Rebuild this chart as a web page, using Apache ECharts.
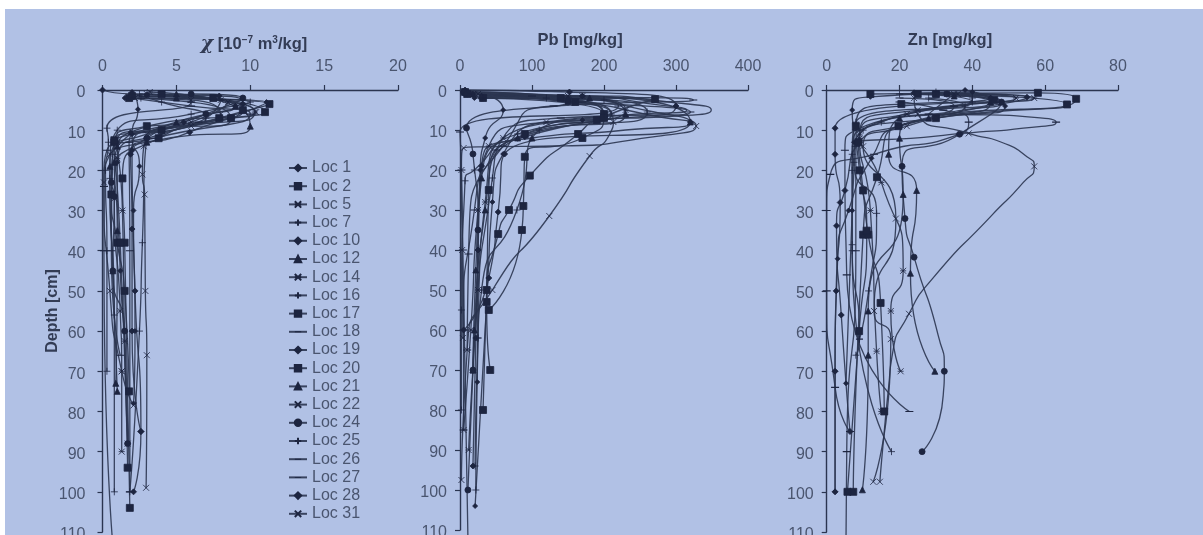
<!DOCTYPE html>
<html><head><meta charset="utf-8">
<style>
html,body{margin:0;padding:0;background:#fff;width:1203px;height:535px;overflow:hidden}
#bg{position:absolute;left:5px;top:9px;width:1198px;height:526px;background:#b1c1e5}
#chart{position:absolute;left:0;top:0;width:1203px;height:535px;filter:blur(0.55px)}
</style>
<script src="https://cdn.jsdelivr.net/npm/echarts@6/dist/echarts.min.js"></script>
</head><body><div id="bg"></div><div id="chart"></div>
<script>
const locations=['Loc 1','Loc 2','Loc 5','Loc 7','Loc 10','Loc 12','Loc 14','Loc 16','Loc 17','Loc 18','Loc 19','Loc 20','Loc 21','Loc 22','Loc 24','Loc 25','Loc 26','Loc 27','Loc 28','Loc 31'];
// pairs are [value, depth in cm]; a third element 0 marks a point read off the curve that carries no marker
const chi1=[[0,0],[2,1],[7.9,1.5],[9.5,3.5],[5.9,10.5],[1.9,16],[2,34.6],[2,60],[2.6,85]];
const chi2=[[1.8,2],[11.3,3.5],[7.9,7],[3.8,12],[1.35,22],[1.5,38],[1.85,104]];
const chi5=[[3.2,0.5],[8,2.5],[10.3,5.5],[4,11],[1,17],[0.8,27],[1.2,55],[1.3,70],[1.3,90]];
const chi7=[[2.5,1],[6,3],[0.3,9.5],[0.4,13],[0.2,20],[0.3,40],[0.3,70]];
const chi10=[[2,0.5],[2.4,4.8],[2,11],[2.5,19],[2.1,30],[2.2,60],[2.1,78]];
const chi12=[[5,1],[9.5,5],[10,9],[3,13],[0.8,18],[1,35],[0.9,73]];
const chi14=[[3,1.5],[8.5,3],[6,8],[1,13],[1.35,30],[1.5,62.5],[1.7,88]];
const chi16=[[2.6,2],[10,3],[6,6],[1,10],[0.5,22],[0.8,56],[0.8,100]];
const chi17=[[2,1.5],[7.5,2],[9.5,5],[3,9],[0.8,13],[0.6,26],[1,38],[1.5,50],[1.8,75]];
const chi18=[[1.9,2],[6,3],[8.7,7],[2,11],[0.7,16],[0.6,40],[1.2,66]];
const chi19=[[1.5,2],[11.1,3],[8,7],[1.9,10.5],[1,18],[1.2,45],[1.5,60]];
const chi20=[[4,1],[11,5.5],[8.7,7],[4,10],[0.8,12.5],[1.2,38],[1.7,94]];
const chi21=[[5,2],[9,4],[5,8],[1,14],[0.5,19],[0.7,45],[1,75]];
const chi22=[[3,1],[10.4,5.5],[6,9],[2.8,14],[2.7,21],[2.85,26],[2.9,50],[3,66],[2.95,99]];
const chi24=[[6,1],[9.5,2],[7,6],[3,12],[0.6,23],[0.8,26.5],[0.7,45],[1.5,60],[1.7,88]];
const chi25=[[2,1],[4,3],[7,7],[3,12],[2.7,38],[2.5,60],[1.85,100]];
const chi26=[[2,2],[6,4],[10,6],[3.5,12],[0.3,15],[0.1,24],[0.1,40],[0.75,115]];
const chi27=[[2.5,1.5],[8,2.5],[6.5,8],[1.8,13],[1.85,40],[1.85,100]];
const chi28=[[3,1.2],[9,4],[5.5,8],[2,15],[2.2,50],[2.6,85],[2.1,100]];
const chi31=[[2.2,2],[6,2.5],[8,6],[3,11],[0.5,16],[0.1,23],[0.5,50],[1.3,70],[2.1,78.5]];
const pb1=[[7,0],[152,0.5],[300,4],[90,11.7],[30,19],[25,40],[22,62],[18,94]];
const pb2=[[32,2],[271,2.3],[190,7.5],[164,11],[97,21.4],[68,30],[53,36],[37,53],[42,70]];
const pb5=[[18,1],[170,1.5],[270,3.6,0],[315,5,0],[230,6.2,0],[120,8],[40,14],[25,30],[15,60],[5,85]];
const pb7=[[10,1],[120,2],[210,6],[80,11],[20,20],[7,22.7],[2,55],[2,80]];
const pb10=[[5,0.5],[60,5],[35,12],[28,20],[25,40],[24,73]];
const pb12=[[18,1],[150,2],[270,5.5,0],[320,8],[230,10,0],[100,12],[30,22],[22,45],[18,70]];
const pb14=[[8,0.5],[150,1.5],[230,5],[60,12],[35,28],[25,50],[12,90]];
const pb16=[[30,2],[200,2.5],[260,5.5],[80,12],[45,22],[25,62],[22,100]];
const pb17=[[7,0.5],[140,2],[200,6],[90,11],[40,25],[37,50],[32,80]];
const pb18=[[15,1],[100,1.5],[324,2.5],[130,4],[60,14],[20,30],[5,60],[5,85]];
const pb19=[[20,2],[170,1.5],[300,3.2,0],[349,5,0],[300,6.5,0],[170,7.5],[60,16],[45,28],[38,50],[21,104]];
const pb20=[[10,1],[160,3],[200,7],[170,12],[90,16.7],[88,29],[86,35],[40,55]];
const pb21=[[30,1.5],[180,2],[230,6],[80,12],[35,30],[20,60],[18,70]];
const pb22=[[25,1],[160,3],[270,6.5,0],[328,9],[268,11.7,0],[130,14,0],[40,14.2,0],[5,14.5],[2,20],[3,40],[4,62]];
const pb24=[[5,0.5],[150,3],[9,9.5],[18,16],[25,35],[18,70],[11,100]];
const pb25=[[32,2],[200,6],[110,10],[79,30],[30,50],[25,62],[21,94]];
const pb26=[[15,1],[150,2],[220,4],[0,10.5],[2,20],[4,40],[11,112]];
const pb27=[[20,1.5],[170,3],[320,5.5],[140,7],[50,15],[12,41],[10,65]];
const pb28=[[8,1],[170,1.5],[320,8],[62,16],[53,30.5],[40,47],[5,60]];
const pb31=[[20,1],[150,3],[213,8],[208,11,0],[180,16.5],[124,31.5],[45,50],[10,65],[2,97.5]];
const zn1=[[24,0.7],[55,1.8],[20,9],[9,13],[5,25],[2.7,33.8],[4,56],[6.4,85]];
const zn2=[[12,1],[58,0.7],[68.5,2.2],[19.7,9],[13.8,21.7],[10,36],[7.3,100]];
const zn5=[[35,1],[57,2],[25,5],[9,11],[15,23],[21,45],[17.6,55],[20.3,70]];
const zn7=[[20,1],[40,3],[8,8],[7,20],[7,38.5],[9,62],[8,66]];
const zn10=[[40,0.5],[12,1.7],[7,5],[7.5,13],[7,30],[5.3,73]];
const zn12=[[30,1],[45,3],[20,7],[17,16],[24.7,25],[23,45.6],[29.7,70]];
const zn14=[[33,1],[52,2],[22,6],[9,12],[12,30],[13.7,65],[15,80]];
const zn16=[[28,2],[38,4],[10,10],[7.5,18],[13.7,30.7],[11.5,50],[9,62]];
const zn17=[[25,1],[66,3.6],[30,7],[8.7,13],[10,25],[11.4,36],[14.8,53],[15.8,80]];
const zn18=[[20,2],[35,4],[8,10],[5,15],[5.5,46],[22.7,80]];
const zn19=[[38,0],[49,4],[30,7],[19.7,9],[12.3,17],[6,30],[3,42],[2.3,70],[2.3,100]];
const zn20=[[30,1],[46,2.5],[20.5,3.5],[8,9],[9,20],[11,35],[8.9,60],[5.7,100]];
const zn21=[[35,1.5],[48,3],[28,7],[20,12],[21,26],[11.4,55],[11.4,66],[9.8,99.5]];
const zn22=[[24,2],[25,6],[39,10.8],[48,13,0],[55,16.6,0],[57,19],[54,23,0],[45,31.5,0],[29,47,0],[22.6,55.7],[18,66,0],[17,74,0],[15.5,88,0],[14.6,97.5]];
const zn24=[[33,1],[48,3],[36.5,11],[20.7,19],[21.5,32],[24,41.6],[30.6,61,0],[32.3,70],[32,76,0],[26.2,90]];
const zn25=[[30,0.5],[40,2],[15,8],[7,16],[7,40],[17.8,90]];
const zn26=[[35,1],[28,6],[45,6.2,0],[57,6.8,0],[63,8],[54,9.5,0],[40,10.6,0],[30,11.5,0],[8,14],[8,40],[5.5,90],[5.3,112]];
const zn27=[[20,3],[32,5],[39,8],[36.5,11],[13,16],[1,21],[0,30],[0,50],[2.3,74],[6.4,85]];
const zn28=[[25,1],[45,2],[2.3,9.5],[2.3,16],[3.7,28],[2.6,50],[2.3,70],[2.3,100]];
const zn31=[[36,1],[45,3],[22,9],[10,14],[19,32],[13,55],[17.6,62],[12.8,97.5]];
const chiSeries=[chi1,chi2,chi5,chi7,chi10,chi12,chi14,chi16,chi17,chi18,chi19,chi20,chi21,chi22,chi24,chi25,chi26,chi27,chi28,chi31];
const pbSeries=[pb1,pb2,pb5,pb7,pb10,pb12,pb14,pb16,pb17,pb18,pb19,pb20,pb21,pb22,pb24,pb25,pb26,pb27,pb28,pb31];
const znSeries=[zn1,zn2,zn5,zn7,zn10,zn12,zn14,zn16,zn17,zn18,zn19,zn20,zn21,zn22,zn24,zn25,zn26,zn27,zn28,zn31];
const xTicks=[{max:20,interval:5},{max:400,interval:100},{max:80,interval:20}];

const DARK='#2b3550', TXT='#4a556f', HEAD='#333c55';
const X='path://M0 0L10 10M10 0L0 10';
const PLUS='path://M0 5H10M5 2V8';
const DASH='path://M0 0L0.01 0L0 0.01ZM0 4.3H10V5.7H0ZM10 10L9.99 10L10 9.99Z';
const STAR='path://M0 1L10 9M10 1L0 9M0 5H10';
const marks=[['diamond',7],['rect',8],[STAR,7],[PLUS,8],['diamond',6],['triangle',7],[STAR,7],[PLUS,8],['rect',8],[DASH,9],['diamond',6],['rect',8],['triangle',7],[X,7],['circle',7],[PLUS,8],[DASH,9],[DASH,9],['diamond',7],[X,7]];
const grids=[
 {left:102.5,top:90,width:295.5,height:442,outerBoundsMode:'none'},
 {left:460,top:90,width:288,height:440,outerBoundsMode:'none'},
 {left:826.7,top:90,width:291.3,height:442,outerBoundsMode:'none'}];
const yMargins=[17,13,13];
const titles=[
 {text:'{c|χ}{b| [10}{s|−7}{b| m}{s|3}{b|/kg]}',left:254,top:35},
 {text:'Pb [mg/kg]',left:580,top:32},
 {text:'Zn [mg/kg]',left:950,top:32}];
const axisCommon={axisLine:{show:true,onZero:false,lineStyle:{color:DARK,width:1.4}},axisTick:{show:true,length:5,lineStyle:{color:DARK,width:1.2}},splitLine:{show:false},axisLabel:{color:TXT,fontFamily:'Liberation Sans',fontSize:16}};
const xAxis=grids.map((g,i)=>Object.assign({},axisCommon,{gridIndex:i,type:'value',position:'top',min:0,max:xTicks[i].max,interval:xTicks[i].interval,
  axisLabel:Object.assign({},axisCommon.axisLabel,{margin:15})}));
const yAxis=grids.map((g,i)=>Object.assign({},axisCommon,{gridIndex:i,type:'value',inverse:true,min:0,max:110,interval:10,
  name:i==0?'Depth [cm]':'',nameLocation:'middle',nameGap:41.5,nameRotate:90,nameMoveOverlap:false,
  nameTextStyle:{color:HEAD,fontWeight:'bold',fontFamily:'Liberation Sans',fontSize:16},
  axisLabel:Object.assign({},axisCommon.axisLabel,{margin:yMargins[i],formatter:'{a|{value}}',
    rich:{a:{color:TXT,fontFamily:'Liberation Sans',fontSize:16,padding:[6,0,0,0]}}})}));
const series=[];
[chiSeries,pbSeries,znSeries].forEach((set,p)=>set.forEach((d,i)=>{
  const isDash=marks[i][0]===DASH, size=marks[i][1]-1;
  series.push({
  name:locations[i],type:'line',xAxisIndex:p,yAxisIndex:p,data:d,smooth:0.7,clip:false,
  symbol:marks[i][0],symbolSize:v=>v[2]===0?0:size,showSymbol:true,
  lineStyle:{color:DARK,width:1.3,opacity:0.9},
  itemStyle:{color:'#1d2540',borderColor:'#1d2540',borderWidth:isDash?0:0.8},
  emphasis:{disabled:true},animation:false});}));
const chart=echarts.init(document.getElementById('chart'),null,{renderer:'canvas'});
chart.setOption({animation:false,backgroundColor:'transparent',grid:grids,xAxis,yAxis,series,
 title:titles.map(t=>({text:t.text,left:t.left,top:t.top,textAlign:'center',padding:0,
   textStyle:{color:HEAD,fontWeight:'bold',fontFamily:'Liberation Sans',fontSize:16.5,
     rich:{b:{fontWeight:'bold',fontSize:16.5,color:HEAD,fontFamily:'Liberation Sans'},c:{fontStyle:'italic',fontWeight:'bold',fontSize:19,color:HEAD,fontFamily:'DejaVu Serif'},s:{fontWeight:'bold',fontSize:10,color:HEAD,verticalAlign:'top',fontFamily:'Liberation Sans'}}}})),
 legend:{show:true,orient:'vertical',left:283,top:155,height:400,data:locations,selectedMode:false,itemWidth:18,itemHeight:8,itemGap:2.2,
   textStyle:{color:TXT,fontFamily:'Liberation Sans',fontSize:16}}});
</script></body></html>
